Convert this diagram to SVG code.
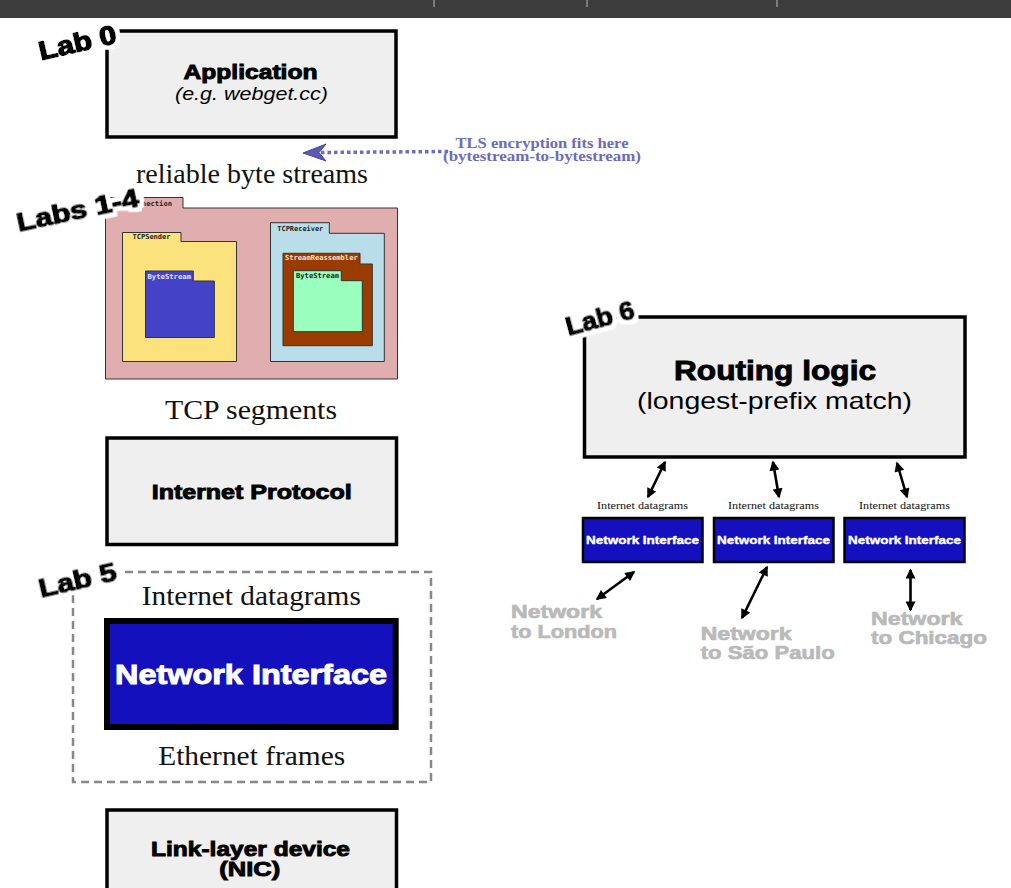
<svg xmlns="http://www.w3.org/2000/svg" width="1011" height="888" viewBox="0 0 1011 888">
<defs>
<marker id="ah" viewBox="0 0 10 10" refX="8.5" refY="5" markerWidth="11" markerHeight="10" markerUnits="userSpaceOnUse" orient="auto-start-reverse">
<path d="M0,0 L10,5 L0,10 Z" fill="#000"/>
</marker>
<filter id="halo" x="-20%" y="-40%" width="140%" height="180%">
<feMorphology in="SourceAlpha" operator="dilate" radius="3.5" result="d"/>
<feFlood flood-color="#fff"/>
<feComposite in2="d" operator="in" result="h"/>
<feMerge><feMergeNode in="h"/><feMergeNode in="SourceGraphic"/></feMerge>
</filter>
</defs>
<style>
.box{fill:#efefef;stroke:#000;stroke-width:3.5}
.hv{font-family:"Liberation Sans",Arial,sans-serif;font-weight:bold;fill:#000;stroke:#000;stroke-width:0.9px;text-anchor:middle}
.reg{font-family:"Liberation Sans",Arial,sans-serif;fill:#000;text-anchor:middle}
.serif{font-family:"Liberation Serif","Times New Roman",serif;fill:#111;text-anchor:middle;font-size:27px}
.sserif{font-family:"Liberation Serif","Times New Roman",serif;fill:#111;text-anchor:middle;font-size:11px}
.lab{font-family:"Liberation Sans",Arial,sans-serif;font-weight:bold;font-size:26px;fill:#000;stroke:#000;stroke-width:1.6px;stroke-linejoin:round;text-anchor:middle}
.fold{stroke:#333;stroke-width:1}
.mono{font-family:"DejaVu Sans Mono","Liberation Mono",monospace;font-weight:bold;font-size:7px}
.ni{fill:#1410be;stroke:#000}
.nit{font-family:"Liberation Sans",Arial,sans-serif;font-weight:bold;fill:#fff;stroke:#fff;text-anchor:middle}
.net{font-family:"Liberation Sans",Arial,sans-serif;font-weight:bold;font-size:19px;fill:#b9b9b9;stroke:#b9b9b9;stroke-width:0.7px}
.arr{stroke:#000;stroke-width:2.6;fill:none;marker-start:url(#ah);marker-end:url(#ah)}
</style>
<rect width="1011" height="888" fill="#fff"/>

<g id="topbar">
<rect x="0" y="0" width="1011" height="18" fill="#3c3c3c"/>
<rect x="433.5" y="0" width="1" height="7" fill="#bbb"/>
<rect x="586.5" y="0" width="1" height="7" fill="#bbb"/>
<rect x="776.5" y="0" width="1" height="7" fill="#bbb"/>
</g>

<g id="application">
<rect class="box" x="107" y="31" width="289" height="106"/>
<text class="hv" x="250.5" y="79" font-size="20" textLength="134" lengthAdjust="spacingAndGlyphs">Application</text>
<text class="reg" x="251.5" y="99.5" font-size="18" font-style="italic" textLength="153" lengthAdjust="spacingAndGlyphs">(e.g. webget.cc)</text>
</g>

<g id="tls-note">
<text x="542" y="148" font-family="Liberation Serif,serif" font-weight="bold" font-size="14" fill="#6b6bbd" text-anchor="middle" textLength="173" lengthAdjust="spacingAndGlyphs">TLS encryption fits here</text>
<text x="542" y="161" font-family="Liberation Serif,serif" font-weight="bold" font-size="14" fill="#6b6bbd" text-anchor="middle" textLength="198" lengthAdjust="spacingAndGlyphs">(bytestream-to-bytestream)</text>
</g>

<text class="serif" x="252" y="183" textLength="232" lengthAdjust="spacingAndGlyphs">reliable byte streams</text>

<g id="tcp-connection">
<path class="fold" d="M105.5,379 V197.5 H183 V208 H397.5 V379 Z" fill="#e1aeb0"/>
<text class="mono" x="116" y="206.3" fill="#222" textLength="56" lengthAdjust="spacingAndGlyphs">TCPConnection</text>
<g id="tcp-sender">
<path class="fold" d="M122.5,361.5 V232.5 H181 V241.5 H236.5 V361.5 Z" fill="#fbe27d"/>
<text class="mono" x="132.5" y="239.3" fill="#222" textLength="38" lengthAdjust="spacingAndGlyphs">TCPSender</text>
<g id="bytestream-sender">
<path class="fold" d="M145.5,337.5 V271 H193.3 V281 H214.3 V337.5 Z" fill="#4442c6"/>
<text class="mono" x="147.5" y="279" fill="#e4e4ff" textLength="43.5" lengthAdjust="spacingAndGlyphs">ByteStream</text>
</g>
</g>
<g id="tcp-receiver">
<path class="fold" d="M270.5,361.5 V222.7 H329.3 V233.3 H384.3 V361.5 Z" fill="#b9dde9"/>
<text class="mono" x="277.3" y="230.7" fill="#222" textLength="46" lengthAdjust="spacingAndGlyphs">TCPReceiver</text>
<g id="stream-reassembler">
<path class="fold" d="M283,345.7 V253.3 H360 V264 H372.3 V345.7 Z" fill="#9a3c00"/>
<text class="mono" x="285" y="260.3" fill="#f3e4d8" textLength="72.7" lengthAdjust="spacingAndGlyphs">StreamReassembler</text>
<g id="bytestream-receiver">
<path class="fold" d="M293.3,331.7 V270.7 H341.3 V280.7 H362.3 V331.7 Z" fill="#9affbe"/>
<text class="mono" x="296" y="278.3" fill="#222" textLength="43" lengthAdjust="spacingAndGlyphs">ByteStream</text>
</g>
</g>
</g>
</g>

<text class="serif" x="251" y="419" textLength="172" lengthAdjust="spacingAndGlyphs">TCP segments</text>

<g id="internet-protocol">
<rect class="box" x="107" y="438" width="289.5" height="106.5" stroke-width="3"/>
<text class="hv" x="251.7" y="499" font-size="20" textLength="200" lengthAdjust="spacingAndGlyphs">Internet Protocol</text>
</g>

<g id="lab5">
<rect x="73" y="572" width="358" height="210" fill="none" stroke="#888" stroke-width="2.5" stroke-dasharray="8 5"/>
<text class="serif" x="251.3" y="605" textLength="219" lengthAdjust="spacingAndGlyphs">Internet datagrams</text>
<g id="network-interface-main">
<rect class="ni" x="107" y="621" width="288.7" height="106" stroke-width="6"/>
<text class="nit" x="251" y="683.5" font-size="28" stroke-width="1" textLength="272" lengthAdjust="spacingAndGlyphs">Network Interface</text>
</g>
<text class="serif" x="251.7" y="765" textLength="187" lengthAdjust="spacingAndGlyphs">Ethernet frames</text>
</g>

<g id="link-layer">
<rect class="box" x="107" y="810" width="289.5" height="90" stroke-width="3"/>
<text class="hv" x="250.5" y="856" font-size="20" textLength="199" lengthAdjust="spacingAndGlyphs">Link-layer device</text>
<text class="hv" x="249.7" y="876" font-size="20" textLength="61" lengthAdjust="spacingAndGlyphs">(NIC)</text>
</g>

<g id="routing">
<rect class="box" x="584.5" y="317" width="380.5" height="140" stroke-width="4"/>
<text class="hv" x="775" y="380" font-size="27" stroke-width="1.1" textLength="202" lengthAdjust="spacingAndGlyphs">Routing logic</text>
<text class="reg" x="774.5" y="409" font-size="24" textLength="275" lengthAdjust="spacingAndGlyphs">(longest-prefix match)</text>
</g>

<g id="ni-london">
<text class="sserif" x="642.5" y="508.5" textLength="91" lengthAdjust="spacingAndGlyphs">Internet datagrams</text>
<rect class="ni" x="583" y="518" width="119.5" height="44" stroke-width="2.5"/>
<text class="nit" x="642.5" y="544.3" font-size="11.5" stroke-width="0.4" textLength="113" lengthAdjust="spacingAndGlyphs">Network Interface</text>
</g>
<g id="ni-saopaulo">
<text class="sserif" x="773.5" y="508.5" textLength="91" lengthAdjust="spacingAndGlyphs">Internet datagrams</text>
<rect class="ni" x="714" y="518" width="119.5" height="44" stroke-width="2.5"/>
<text class="nit" x="773.5" y="544.3" font-size="11.5" stroke-width="0.4" textLength="113" lengthAdjust="spacingAndGlyphs">Network Interface</text>
</g>
<g id="ni-chicago">
<text class="sserif" x="904.5" y="508.5" textLength="91" lengthAdjust="spacingAndGlyphs">Internet datagrams</text>
<rect class="ni" x="844.5" y="518" width="120" height="44" stroke-width="2.5"/>
<text class="nit" x="904.5" y="544.3" font-size="11.5" stroke-width="0.4" textLength="113" lengthAdjust="spacingAndGlyphs">Network Interface</text>
</g>

<g id="network-labels">
<text class="net" x="511" y="617.7" textLength="91" lengthAdjust="spacingAndGlyphs">Network</text>
<text class="net" x="511" y="637.7" textLength="106" lengthAdjust="spacingAndGlyphs">to London</text>
<text class="net" x="700.7" y="640" textLength="91" lengthAdjust="spacingAndGlyphs">Network</text>
<text class="net" x="700.7" y="659.3" textLength="134" lengthAdjust="spacingAndGlyphs">to São Paulo</text>
<text class="net" x="871" y="625" textLength="91.5" lengthAdjust="spacingAndGlyphs">Network</text>
<text class="net" x="871" y="644.3" textLength="116" lengthAdjust="spacingAndGlyphs">to Chicago</text>
</g>

<g id="connectors">
<line x1="448" y1="151.5" x2="321" y2="152.5" stroke="#6d6dc4" stroke-width="3.5" stroke-dasharray="3.5 3"/>
<path d="M303,153 L326,144 L319,152.5 L326,161 Z" fill="#5a5ab0" stroke="#4545a0" stroke-width="1"/>
<line class="arr" x1="665" y1="462" x2="648" y2="497"/>
<line class="arr" x1="773" y1="462" x2="779" y2="497"/>
<line class="arr" x1="897" y1="463" x2="907" y2="497"/>
<line class="arr" x1="634" y1="572" x2="597" y2="599"/>
<line class="arr" x1="767" y1="567" x2="742" y2="618"/>
<line class="arr" x1="910.5" y1="570" x2="910.5" y2="610"/>
</g>

<g id="lab-labels" filter="url(#halo)">
<text class="lab" transform="translate(77.5,42.5) rotate(-13)" x="0" y="9" textLength="79" lengthAdjust="spacingAndGlyphs">Lab 0</text>
<text class="lab" transform="translate(77.5,210) rotate(-12)" x="0" y="9" textLength="124" lengthAdjust="spacingAndGlyphs">Labs 1-4</text>
<text class="lab" transform="translate(77.5,580) rotate(-13)" x="0" y="9" textLength="79" lengthAdjust="spacingAndGlyphs">Lab 5</text>
<text class="lab" transform="translate(600,318) rotate(-15)" x="0" y="8.5" font-size="24" textLength="70" lengthAdjust="spacingAndGlyphs">Lab 6</text>
</g>
</svg>
